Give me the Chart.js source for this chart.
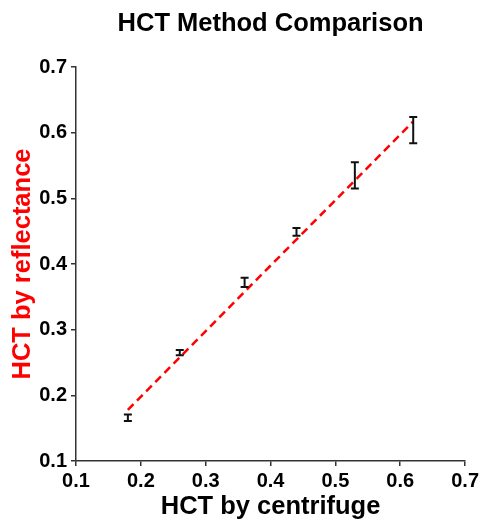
<!DOCTYPE html>
<html>
<head>
<meta charset="utf-8">
<script src="https://cdn.jsdelivr.net/npm/chart.js@4"></script>
<style>
  html, body { margin: 0; padding: 0; background: #fff; }
  #wrap { width: 482px; height: 522px; }
</style>
</head>
<body>
<div id="wrap"><canvas id="hctChart" width="482" height="522"></canvas></div>
<script>
// centrifuge HCT (x), mean reflectance HCT and its error
const centrifuge = [0.18, 0.26, 0.36, 0.44, 0.53, 0.62];
const reflectance = [0.166, 0.265, 0.372, 0.449, 0.535, 0.604];
const reflectanceErr = [0.005, 0.004, 0.007, 0.006, 0.02, 0.02];

// regression line end points
const fitX = [0.18, 0.62];
const fitY = [0.178, 0.617];

const axisTicks = [0.1, 0.2, 0.3, 0.4, 0.5, 0.6, 0.7];

const fontFamily = "'Liberation Sans', Arial, sans-serif";

const errorBars = {
    id: 'errorBars',
    afterDatasetsDraw(chart) {
        const ctx = chart.ctx;
        const xs = chart.scales.x;
        const ys = chart.scales.y;
        ctx.save();
        ctx.strokeStyle = '#111';
        ctx.lineWidth = 2;
        centrifuge.forEach((x, i) => {
            const px = xs.getPixelForValue(x);
            const top = ys.getPixelForValue(reflectance[i] + reflectanceErr[i]);
            const bot = ys.getPixelForValue(reflectance[i] - reflectanceErr[i]);
            ctx.beginPath();
            ctx.moveTo(px, top);
            ctx.lineTo(px, bot);
            ctx.moveTo(px - 4, top);
            ctx.lineTo(px + 4, top);
            ctx.moveTo(px - 4, bot);
            ctx.lineTo(px + 4, bot);
            ctx.stroke();
        });
        ctx.restore();
    }
};

const ctx = document.getElementById('hctChart').getContext('2d');

const hctChart = new Chart(ctx, {
    type: 'scatter',
    data: {
        datasets: [{
            label: 'Reflectance',
            data: centrifuge.map((x, i) => ({ x: x, y: reflectance[i] })),
            pointRadius: 0,
            showLine: false
        }, {
            label: 'Fit',
            data: fitX.map((x, i) => ({ x: x, y: fitY[i] })),
            showLine: true,
            pointRadius: 0,
            borderColor: '#ff0000',
            borderWidth: 2.5,
            borderDash: [8, 5],
            fill: false
        }]
    },
    plugins: [errorBars],
    options: {
        responsive: false,
        animation: false,
        layout: {
            padding: { right: 16, left: 0, bottom: 0, top: 0 }
        },
        plugins: {
            legend: { display: false },
            tooltip: { enabled: false },
            title: {
                display: true,
                text: 'HCT Method Comparison',
                fullSize: false,
                color: '#000',
                font: { family: fontFamily, size: 25.5, weight: 'bold' },
                padding: { top: 9, bottom: 27.4 }
            }
        },
        scales: {
            x: {
                type: 'linear',
                min: 0.1,
                max: 0.7,
                afterBuildTicks: (scale) => {
                    scale.ticks = axisTicks.map(v => ({ value: v }));
                },
                afterFit: (scale) => { scale.height = 61; },
                grid: {
                    drawOnChartArea: false,
                    drawTicks: true,
                    tickLength: 5,
                    color: '#333',
                    lineWidth: 1.5
                },
                border: { display: true, color: '#333', width: 1.5 },
                ticks: {
                    color: '#000',
                    padding: 3,
                    font: { family: fontFamily, size: 20, weight: 'bold' },
                    callback: (value) => value.toFixed(1)
                },
                title: {
                    display: true,
                    text: 'HCT by centrifuge',
                    color: '#000',
                    font: { family: fontFamily, size: 25.5, weight: 'bold' },
                    padding: { top: 0, bottom: 0 }
                }
            },
            y: {
                type: 'linear',
                min: 0.1,
                max: 0.7,
                afterBuildTicks: (scale) => {
                    scale.ticks = axisTicks.map(v => ({ value: v }));
                },
                afterFit: (scale) => { scale.width = 76; },
                grid: {
                    drawOnChartArea: false,
                    drawTicks: true,
                    tickLength: 5,
                    color: '#333',
                    lineWidth: 1.5
                },
                border: { display: true, color: '#333', width: 1.5 },
                ticks: {
                    color: '#000',
                    padding: 4,
                    font: { family: fontFamily, size: 20, weight: 'bold' },
                    callback: (value) => value.toFixed(1)
                },
                title: {
                    display: true,
                    text: 'HCT by reflectance',
                    color: '#ff0000',
                    font: { family: fontFamily, size: 25.5, weight: 'bold' },
                    padding: { top: 8, bottom: 0 }
                }
            }
        }
    }
});
</script>
</body>
</html>
